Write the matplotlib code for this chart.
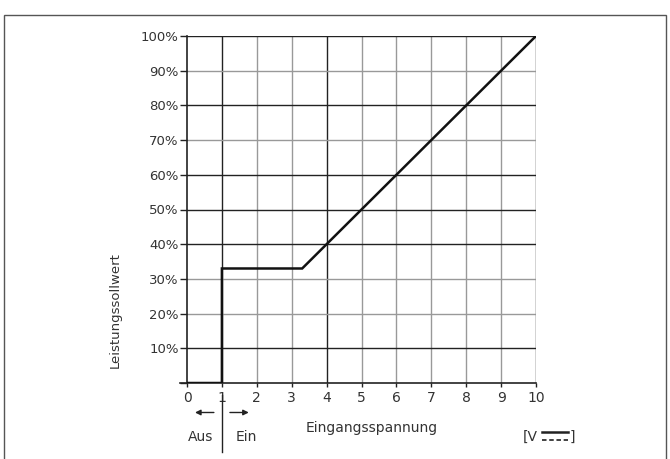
import matplotlib.pyplot as plt
from matplotlib.patches import Rectangle

# characteristic curve: input voltage [V] -> power setpoint [%]
spannung = [0, 1, 1, 3.3, 10]
sollwert = [0, 0, 33, 33, 100]

x_ticks = list(range(0, 11))
y_ticks = [10, 20, 30, 40, 50, 60, 70, 80, 90, 100]
y_labels = [f'{v}%' for v in y_ticks]

# grid lines that print darker in the original scan
dark_x = [1, 4, 10]
dark_y = [10, 40, 50, 60, 80, 100]

txt = '#333333'

fig = plt.figure(figsize=(6.7, 4.59), dpi=100)
fig.patches.append(Rectangle((4 / 670, -0.01), 662 / 670, 449 / 459, transform=fig.transFigure,
                             fill=False, edgecolor='#555555', linewidth=1.0))

ax = fig.add_axes([187 / 670, 1 - 383 / 459, 349 / 670, 347 / 459])
ax.set_xlim(0, 10)
ax.set_ylim(0, 100)

for x in x_ticks[1:]:
    c = '#222222' if x in dark_x else '#999999'
    ax.axvline(x, color=c, lw=1.0, zorder=1)
for y in y_ticks:
    c = '#222222' if y in dark_y else '#999999'
    ax.axhline(y, color=c, lw=1.0, zorder=1)

ax.plot(spannung, sollwert, color='#111111', lw=1.8, zorder=3, solid_joinstyle='miter')

for s in ['top', 'right']:
    ax.spines[s].set_visible(False)
ax.spines['left'].set_color('#222222')
ax.spines['bottom'].set_color('#222222')
ax.spines['left'].set_linewidth(1.2)
ax.spines['bottom'].set_linewidth(1.2)
ax.spines['bottom'].set_bounds(-0.2, 10)

ax.set_xticks(x_ticks)
ax.set_xticklabels([str(v) for v in x_ticks], fontsize=10, color=txt)
ax.set_yticks([0] + y_ticks)
ax.set_yticklabels([''] + y_labels, fontsize=9.5, color=txt)
ax.tick_params(axis='y', length=5, width=1, color='#222222', pad=1)
ax.tick_params(axis='x', length=3, width=1, color='#222222', pad=3)

ax.text(-2.07, 21, 'Leistungssollwert', rotation=90, ha='center', va='center',
        fontsize=9.5, color=txt)

# Aus / Ein switch region below the axis
ax.plot([1, 1], [-3.5, -20], color='#222222', lw=1.0, clip_on=False)
ax.annotate('', xy=(0.15, -8.5), xytext=(0.85, -8.5), annotation_clip=False,
            arrowprops=dict(arrowstyle='-|>', color='#222222', lw=1.0, mutation_scale=8))
ax.annotate('', xy=(1.85, -8.5), xytext=(1.15, -8.5), annotation_clip=False,
            arrowprops=dict(arrowstyle='-|>', color='#222222', lw=1.0, mutation_scale=8))
ax.text(0.4, -15.5, 'Aus', ha='center', va='center', fontsize=10, color=txt)
ax.text(1.7, -15.5, 'Ein', ha='center', va='center', fontsize=10, color=txt)
ax.text(5.3, -13, 'Eingangsspannung', ha='center', va='center', fontsize=10, color=txt)

# unit label [V with DC symbol]
ax.text(9.62, -15.5, '[V', ha='left', va='center', fontsize=10, color=txt)
ax.text(10.95, -15.5, ']', ha='left', va='center', fontsize=10, color=txt)
ax.plot([10.18, 10.92], [-14.2, -14.2], color='#222222', lw=1.8, clip_on=False)
ax.plot([10.18, 10.92], [-16.4, -16.4], color='#333333', lw=1.3, ls=(0, (2.5, 1.5)), clip_on=False)

fig.savefig('out.png', dpi=100)
